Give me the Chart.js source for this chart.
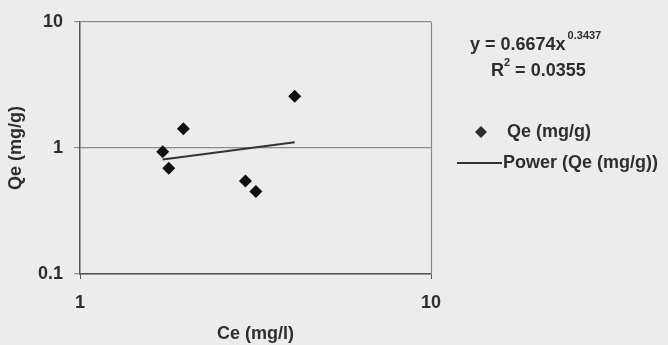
<!DOCTYPE html>
<html>
<head>
<meta charset="utf-8">
<script src="https://cdn.jsdelivr.net/npm/chart.js@4.4.0/dist/chart.umd.min.js"></script>
<style>
  html, body { margin: 0; padding: 0; background: #ececec; }
  #isotherm { display: block; }
</style>
</head>
<body>
<canvas id="isotherm" width="668" height="345"></canvas>
<script>
// values
const ceValues = [1.72, 1.79, 1.97, 2.96, 3.17, 4.09];
const qeValues = [0.93, 0.69, 1.42, 0.546, 0.452, 2.57];
const trendCe = [1.72, 4.09];
const trendQe = [0.81, 1.11];
const xTicks = [1, 10];
const yTicks = [0.1, 1, 10];

const seriesLabel = 'Qe (mg/g)';
const trendLabel = 'Power (Qe (mg/g))';
const eqMain = 'y = 0.6674x';
const eqPower = '0.3437';
const r2Value = ' = 0.0355';

const textColor = '#2e2e2e';
const fontFamily = "'Liberation Sans', Arial, sans-serif";
const bigFont = 'bold 18px ' + fontFamily;
const supFont = 'bold 11px ' + fontFamily;

function toPoints(xs, ys) {
    return xs.map(function (x, i) { return { x: x, y: ys[i] }; });
}

// draws the right edge, the equation and the legend at the side
const extrasPlugin = {
    id: 'extras',
    afterDraw(chart) {
        const ctx = chart.ctx;
        const a = chart.chartArea;
        ctx.save();
        ctx.strokeStyle = '#8c8c8c';
        ctx.lineWidth = 1.2;
        ctx.beginPath();
        ctx.moveTo(a.right + 0.5, a.top);
        ctx.lineTo(a.right + 0.5, a.bottom);
        ctx.stroke();

        ctx.fillStyle = textColor;
        ctx.textBaseline = 'middle';
        ctx.textAlign = 'left';

        // trendline equation
        ctx.font = bigFont;
        ctx.fillText(eqMain, 470, 45);
        let w = ctx.measureText(eqMain).width;
        ctx.font = supFont;
        ctx.fillText(eqPower, 470 + w + 2, 36);

        ctx.font = bigFont;
        ctx.fillText('R', 491, 71);
        w = ctx.measureText('R').width;
        ctx.font = supFont;
        ctx.fillText('2', 491 + w, 63);
        let w2 = ctx.measureText('2').width;
        ctx.font = bigFont;
        ctx.fillText(r2Value, 491 + w + w2, 71);

        // legend
        const dx = 481, dy = 132, r = 6;
        ctx.beginPath();
        ctx.moveTo(dx, dy - r);
        ctx.lineTo(dx + r, dy);
        ctx.lineTo(dx, dy + r);
        ctx.lineTo(dx - r, dy);
        ctx.closePath();
        ctx.fill();
        ctx.fillText(seriesLabel, 507, dy);

        ctx.strokeStyle = '#333333';
        ctx.lineWidth = 2;
        ctx.beginPath();
        ctx.moveTo(457, 163);
        ctx.lineTo(502, 163);
        ctx.stroke();
        ctx.fillText(trendLabel, 503, 163);
        ctx.restore();
    }
};

new Chart('isotherm', {
    type: 'scatter',
    data: {
        datasets: [{
            label: seriesLabel,
            data: toPoints(ceValues, qeValues),
            pointStyle: 'rectRot',
            pointRadius: 6.5,
            backgroundColor: '#111111',
            borderColor: '#111111',
            borderWidth: 0
        }, {
            label: trendLabel,
            data: toPoints(trendCe, trendQe),
            showLine: true,
            pointRadius: 0,
            borderColor: '#333333',
            borderWidth: 2
        }]
    },
    options: {
        responsive: false,
        animation: false,
        devicePixelRatio: 1,
        layout: {
            padding: { left: 0, top: 15, right: 237, bottom: 0 }
        },
        plugins: {
            legend: { display: false },
            tooltip: { enabled: false }
        },
        scales: {
            x: {
                type: 'logarithmic',
                min: 1,
                max: 10,
                afterBuildTicks: function (scale) {
                    scale.ticks = xTicks.map(v => ({ value: v }));
                },
                afterFit: function (scale) { scale.height = 71; },
                grid: {
                    drawOnChartArea: false,
                    color: '#555555',
                    tickLength: 5
                },
                border: { color: '#555555', width: 1.5 },
                ticks: {
                    color: textColor,
                    font: { size: 18, weight: 'bold', family: fontFamily },
                    padding: 13,
                    maxRotation: 0,
                    callback: v => String(v)
                },
                title: {
                    display: true,
                    text: 'Ce (mg/l)',
                    color: textColor,
                    font: { size: 18, weight: 'bold', family: fontFamily },
                    padding: { top: 0, bottom: 0 }
                }
            },
            y: {
                type: 'logarithmic',
                min: 0.1,
                max: 10,
                afterBuildTicks: function (scale) {
                    scale.ticks = yTicks.map(v => ({ value: v }));
                },
                afterFit: function (scale) { scale.width = 80; },
                grid: {
                    color: '#8c8c8c',
                    lineWidth: 1.2,
                    tickLength: 6
                },
                border: { color: '#555555', width: 1.5 },
                ticks: {
                    color: textColor,
                    font: { size: 18, weight: 'bold', family: fontFamily },
                    padding: 11,
                    callback: v => String(v)
                },
                title: {
                    display: true,
                    text: 'Qe (mg/g)',
                    color: textColor,
                    font: { size: 18, weight: 'bold', family: fontFamily },
                    padding: { top: 5, bottom: 0 }
                }
            }
        }
    },
    plugins: [extrasPlugin]
});
</script>
</body>
</html>
